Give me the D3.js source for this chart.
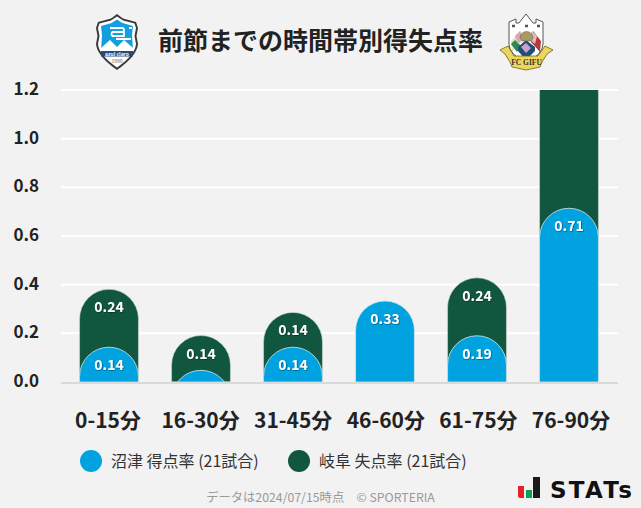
<!DOCTYPE html>
<html><head><meta charset="utf-8">
<script src="https://cdn.jsdelivr.net/npm/d3@7"></script>
<style>html,body{margin:0;padding:0;background:#f2f2f2;overflow:hidden}svg{display:block}text{font-family:"Noto Sans CJK JP","Noto Sans",sans-serif}</style>
</head><body><svg id="c" width="641" height="508"></svg>
<script>
const categories=["0-15分","16-30分","31-45分","46-60分","61-75分","76-90分"];
const numazuRate=[0.143,0.048,0.143,0.333,0.19,0.714];
const gifuRate=[0.238,0.143,0.143,0,0.238,0.67];
const numazuLabels=["0.14","","0.14","0.33","0.19","0.71"];
const gifuLabels=["0.24","0.14","0.14","","0.24",""];
const yTicks=[0,0.2,0.4,0.6,0.8,1.0,1.2];
const legendNames=["沼津 得点率 (21試合)","岐阜 失点率 (21試合)"];
const colors=["#00a3e0","#115740"];
const title="前節までの時間帯別得失点率";
const footer="データは2024/07/15時点　© SPORTERIA";

const svg=d3.select("#c");
svg.append("rect").attr("width",641).attr("height",508).attr("fill","#f2f2f2");
const y=d3.scaleLinear().domain([0,1.2]).range([382,90]);
const x=d3.scaleBand().domain(categories).range([63,615]).paddingInner(0.36).paddingOuter(0.18);
const labelX=d3.scalePoint().domain(categories).range([108,571]);
const bw=x.bandwidth();

const defs=svg.append("defs");
defs.append("clipPath").attr("id","plot").append("rect").attr("x",55).attr("y",90).attr("width",570).attr("height",292);
const f=defs.append("filter").attr("id","ts").attr("x","-20%").attr("y","-20%").attr("width","140%").attr("height","140%");
f.append("feDropShadow").attr("dx",0.6).attr("dy",0.6).attr("stdDeviation",0.5).attr("flood-color","#000").attr("flood-opacity",0.55);

// grid and axis
svg.append("g").selectAll("line").data(yTicks.filter(d=>d>0)).join("line")
 .attr("x1",61).attr("x2",618).attr("y1",d=>y(d)).attr("y2",d=>y(d)).attr("stroke","#fff").attr("stroke-width",2);
svg.append("line").attr("x1",61).attr("x2",618).attr("y1",y(0)+1).attr("y2",y(0)+1).attr("stroke","#d9d9d9").attr("stroke-width",2);
svg.append("g").selectAll("text").data(yTicks).join("text")
 .attr("x",39).attr("y",d=>y(d)-1.2).attr("dy","0.36em").attr("text-anchor","end")
 .attr("font-size",17).attr("font-weight",700).attr("fill","#222").text(d=>d.toFixed(1));

function pill(x0,yTop,w){
  const r=w/2,b=y(0);
  return `M${x0},${b}V${yTop+r}A${r},${r} 0 0 1 ${x0+w},${yTop+r}V${b}Z`;
}
const plot=svg.append("g").attr("clip-path","url(#plot)");
plot.selectAll("path.g").data(categories.filter((c,i)=>gifuRate[i]>0)).join("path").attr("class","g")
 .attr("d",c=>{const i=categories.indexOf(c);return pill(x(c),y(numazuRate[i]+gifuRate[i]),bw);})
 .attr("fill",colors[1]).attr("stroke","#cfd8d4").attr("stroke-width",0.6);
plot.selectAll("path.n").data(categories).join("path").attr("class","n")
 .attr("d",(c,i)=>pill(x(c),y(numazuRate[i]),bw))
 .attr("fill",colors[0]).attr("stroke","#d5e6ee").attr("stroke-width",0.8);

const lab=svg.append("g").attr("font-size",14).attr("font-weight",700).attr("fill","#fff").attr("text-anchor","middle").attr("filter","url(#ts)");
categories.forEach((c,i)=>{
  const cx=x(c)+bw/2;
  if(numazuLabels[i]) lab.append("text").attr("x",cx).attr("y",y(numazuRate[i])+18).attr("dy","0.36em").text(numazuLabels[i]);
  if(gifuLabels[i]) lab.append("text").attr("x",cx).attr("y",y(numazuRate[i]+gifuRate[i])+18).attr("dy","0.36em").text(gifuLabels[i]);
});

svg.append("g").selectAll("text").data(categories).join("text")
 .attr("x",c=>labelX(c)).attr("y",427.5).attr("text-anchor","middle")
 .attr("font-size",21).attr("font-weight",700).attr("fill","#222").text(c=>c);

// legend
const lx=[91,299];
legendNames.forEach((n,i)=>{
  svg.append("circle").attr("cx",lx[i]).attr("cy",461).attr("r",11).attr("fill",colors[i]);
  svg.append("text").attr("x",lx[i]+20).attr("y",467).attr("font-size",16).attr("fill","#333").text(n);
});

svg.append("text").attr("x",320.5).attr("y",50).attr("text-anchor","middle").attr("font-size",25).attr("font-weight",700).attr("fill","#222").text(title);
svg.append("text").attr("x",320.5).attr("y",502).attr("text-anchor","middle").attr("font-size",12.3).attr("fill","#999").text(footer);

// left crest
const a=svg.append("g").attr("transform","translate(96,14)");
a.append("path").attr("d","M21,0L27,4.5L40,8L42,14L40.5,22L42,30Q41,42 21,56Q1,42 0,30L1.5,22L0,14L2,8L15,4.5Z").attr("fill","#3a3a3a");
a.append("path").attr("d","M21,2.5L27,6.5L38.5,9.5L40,14L38.5,22L40,30Q39,41 21,53.5Q3,41 2,30L3.5,22L2,14L3.5,9.5L15,6.5Z").attr("fill","#fff");
a.append("path").attr("d","M5,12L15.5,9L21,5.5L26.5,9L37,12L36,21L37,37H5L6,21Z").attr("fill","#119fe0");
a.append("path").attr("d","M5,37V34L14,26L21,33L28,26L37,34V37Z").attr("fill","#fff");
a.append("path").attr("d","M14,14H26A2,2 0 0 1 28,16V22H16.5A2.5,2.5 0 0 1 16.5,18H28M20,25H35M33,14H36").attr("fill","none").attr("stroke","#fff").attr("stroke-width",1.8);
a.append("rect").attr("x",5).attr("y",37).attr("width",32).attr("height",5.5).attr("fill","#2a4a7a");
a.append("text").attr("x",21).attr("y",41.5).attr("text-anchor","middle").attr("font-size",5).attr("font-weight",700).attr("fill","#fff").text("azul claro");
a.append("text").attr("x",21).attr("y",48.5).attr("text-anchor","middle").attr("font-size",5).attr("fill","#555").text("1990");
// right crest
const g=svg.append("g").attr("transform","translate(500,14)");
g.append("path").attr("d","M9,8L16,5V9H19L26,0L33,9H36V5L43,8V30Q43,40 26,49Q9,40 9,30Z").attr("fill","#fff").attr("stroke","#555").attr("stroke-width",1);
g.append("path").attr("d","M12,12h3M25,12h3M37,12h3").attr("stroke","#555").attr("stroke-width",2.5);
g.append("path").attr("d","M11,27L20,17L22,28L12,38Z").attr("fill","#e3e0d8");
g.append("path").attr("d","M11,30L15,26L21,32L17,38Z").attr("fill","#2a8a4a");
g.append("path").attr("d","M15,22L20,17L24,24L18,30Z").attr("fill","#d9a8b2");
g.append("path").attr("d","M41,27L33,17L31,28L40,38Z").attr("fill","#b23a3a");
g.append("path").attr("d","M37,22L32,17L28,24L35,30Z").attr("fill","#e3b9c0");
g.append("path").attr("d","M18,33L26,26L35,33V37L26,46L18,37Z").attr("fill","#1f4e79");
g.append("path").attr("d","M21,33L26,29L31,34L26,39Z").attr("fill","#c9a3c6");
g.append("path").attr("d","M20,24A6.5,6.5 0 0 1 33,24L31,27H22Z").attr("fill","#a99a62").attr("stroke","#555").attr("stroke-width",0.5);
g.append("path").attr("d","M0,36L8,32L14,42L38,42L45,32L53,36L47,40L42,48L40,53L26,56L12,53L10,48L5,40Z").attr("fill","#ecd75c").attr("stroke","#6b5e1c").attr("stroke-width",0.8);
g.append("text").attr("x",26.5).attr("y",50.5).attr("text-anchor","middle").attr("font-size",7.5).attr("font-weight",700).attr("fill","#333").style("font-family","'Liberation Serif',serif").text("FC GIFU");
// STATs logo
const st=svg.append("g");
st.append("path").attr("d","M518,486H524V498H520Q518,498 518,496Z").attr("fill","#e8202a");
st.append("rect").attr("x",526).attr("y",490).attr("width",6).attr("height",8).attr("fill","#10a050");
st.append("path").attr("d","M533,477H540V498H533Z").attr("fill","#1a1a1a");
st.append("text").attr("x",550).attr("y",497.5).attr("font-size",23).attr("font-weight",700).attr("fill","#111").attr("textLength",82).style("font-family","'DejaVu Sans',sans-serif").text("STATs");
</script></body></html>
